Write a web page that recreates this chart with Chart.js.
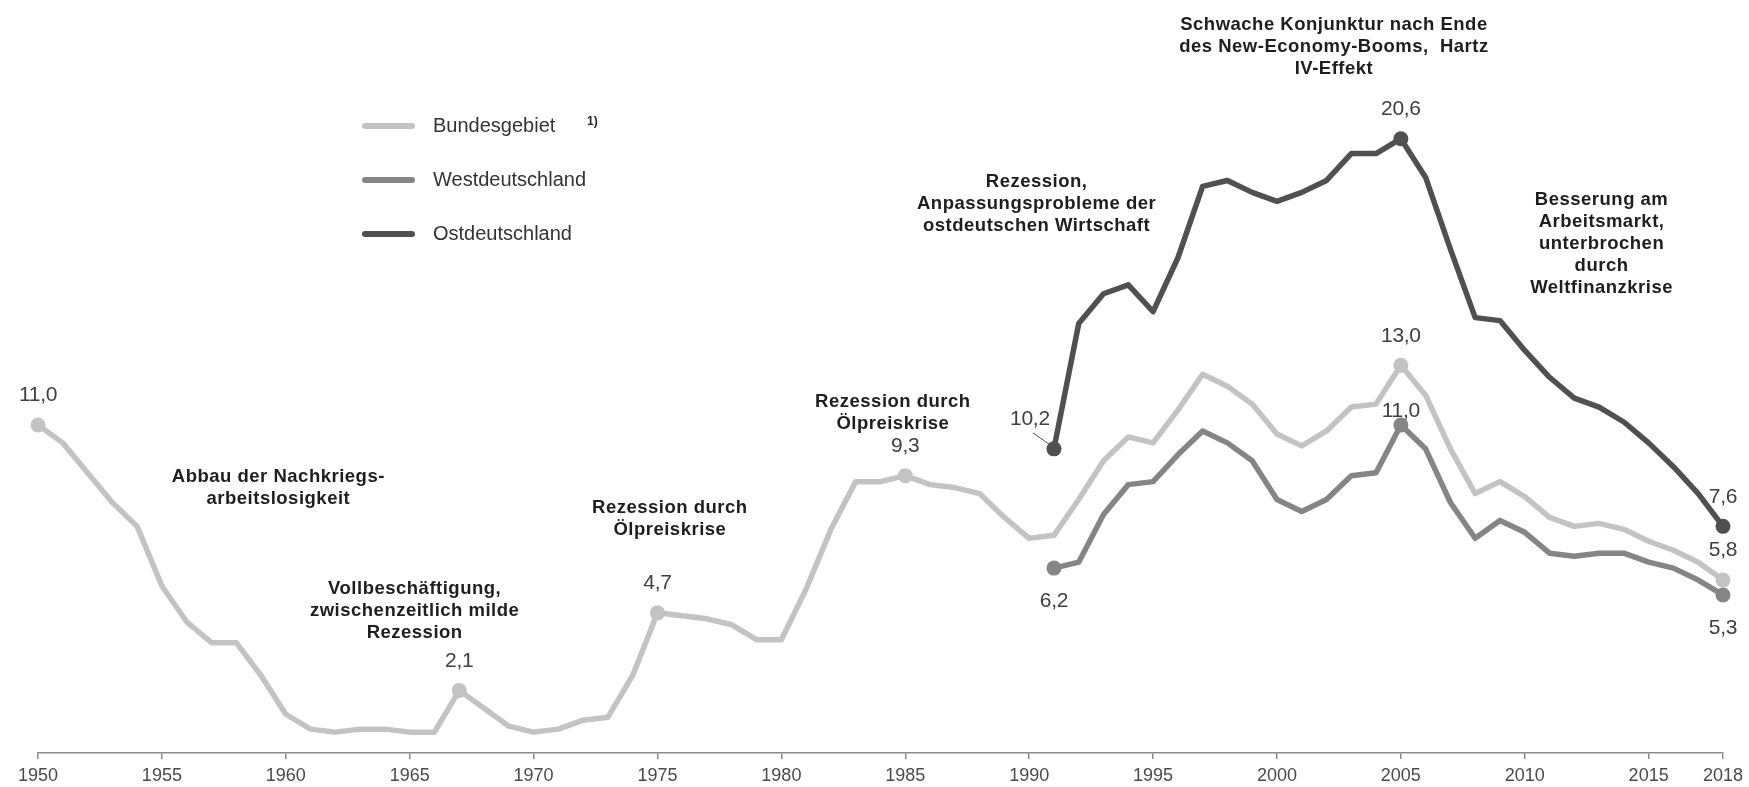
<!DOCTYPE html>
<html lang="de">
<head>
<meta charset="utf-8">
<title>Arbeitslosenquote 1950-2018</title>
<script src="https://cdn.jsdelivr.net/npm/chart.js@4.4.1/dist/chart.umd.min.js"></script>
<style>
  html, body { margin: 0; padding: 0; background: #fff; }
  #wrap { width: 1749px; height: 787px; }
</style>
</head>
<body>
<div id="wrap"><canvas id="chart" width="1749" height="787"></canvas></div>
<script>
// --- Daten ---
const jahre = [
  1950, 1951, 1952, 1953, 1954, 1955, 1956, 1957, 1958, 1959,
  1960, 1961, 1962, 1963, 1964, 1965, 1966, 1967, 1968, 1969,
  1970, 1971, 1972, 1973, 1974, 1975, 1976, 1977, 1978, 1979,
  1980, 1981, 1982, 1983, 1984, 1985, 1986, 1987, 1988, 1989,
  1990, 1991, 1992, 1993, 1994, 1995, 1996, 1997, 1998, 1999,
  2000, 2001, 2002, 2003, 2004, 2005, 2006, 2007, 2008, 2009,
  2010, 2011, 2012, 2013, 2014, 2015, 2016, 2017, 2018
];
const bundesgebiet = [
  11.0, 10.4, 9.4, 8.4, 7.6, 5.6, 4.4, 3.7, 3.7, 2.6,
  1.3, 0.8, 0.7, 0.8, 0.8, 0.7, 0.7, 2.1, 1.5, 0.9,
  0.7, 0.8, 1.1, 1.2, 2.6, 4.7, 4.6, 4.5, 4.3, 3.8,
  3.8, 5.5, 7.5, 9.1, 9.1, 9.3, 9.0, 8.9, 8.7, 7.9,
  7.2, 7.3, 8.5, 9.8, 10.6, 10.4, 11.5, 12.7, 12.3, 11.7,
  10.7, 10.3, 10.8, 11.6, 11.7, 13.0, 12.0, 10.2, 8.7, 9.1,
  8.6, 7.9, 7.6, 7.7, 7.5, 7.1, 6.8, 6.4, 5.8
];
const jahreOstWest = [
  1991, 1992, 1993, 1994, 1995, 1996, 1997, 1998, 1999, 2000,
  2001, 2002, 2003, 2004, 2005, 2006, 2007, 2008, 2009, 2010,
  2011, 2012, 2013, 2014, 2015, 2016, 2017, 2018
];
const westdeutschland = [
  6.2, 6.4, 8.0, 9.0, 9.1, 10.0, 10.8, 10.4, 9.8, 8.5,
  8.1, 8.5, 9.3, 9.4, 11.0, 10.2, 8.4, 7.2, 7.8, 7.4,
  6.7, 6.6, 6.7, 6.7, 6.4, 6.2, 5.8, 5.3
];
const ostdeutschland = [
  10.2, 14.4, 15.4, 15.7, 14.8, 16.6, 19.0, 19.2, 18.8, 18.5,
  18.8, 19.2, 20.1, 20.1, 20.6, 19.3, 16.9, 14.6, 14.5, 13.5,
  12.6, 11.9, 11.6, 11.1, 10.4, 9.6, 8.7, 7.6
];
const tickJahre = [1950, 1955, 1960, 1965, 1970, 1975, 1980, 1985, 1990, 1995, 2000, 2005, 2010, 2015, 2018];

// Jahre mit Punkt + Wertbeschriftung
const markenBund = [1950, 1967, 1975, 1985, 2005, 2018];
const markenWest = [1991, 2005, 2018];
const markenOst = [1991, 2005, 2018];

// Erläuterungen (Text + Ankerpunkt in Datenkoordinaten)
const erlaeuterungen = [
  { jahr: 1959.7, wert: 9.25, zeilen: ['Abbau der Nachkriegs-', 'arbeitslosigkeit'] },
  { jahr: 1965.2, wert: 5.5, zeilen: ['Vollbeschäftigung,', 'zwischenzeitlich milde', 'Rezession'] },
  { jahr: 1975.5, wert: 8.23, zeilen: ['Rezession durch', 'Ölpreiskrise'] },
  { jahr: 1984.5, wert: 11.77, zeilen: ['Rezession durch', 'Ölpreiskrise'] },
  { jahr: 1990.3, wert: 19.16, zeilen: ['Rezession,', 'Anpassungsprobleme der', 'ostdeutschen Wirtschaft'] },
  { jahr: 2002.3, wert: 24.43, zeilen: ['Schwache Konjunktur nach Ende', 'des New-Economy-Booms,  Hartz', 'IV-Effekt'] },
  { jahr: 2013.1, wert: 18.54, zeilen: ['Besserung am', 'Arbeitsmarkt,', 'unterbrochen', 'durch', 'Weltfinanzkrise'] }
];

const FONT = "'Liberation Sans', Arial, sans-serif";
const FARBEN = ['#c3c3c3', '#858585', '#505050'];

function punkte(xs, ys) {
  return xs.map((x, i) => ({ x: x, y: ys[i] }));
}
function fmtWert(v) {
  return v.toFixed(1).replace('.', ',');
}

const datasets = [
  { label: 'Bundesgebiet', data: punkte(jahre, bundesgebiet), marken: markenBund, farbe: FARBEN[0] },
  { label: 'Westdeutschland', data: punkte(jahreOstWest, westdeutschland), marken: markenWest, farbe: FARBEN[1] },
  { label: 'Ostdeutschland', data: punkte(jahreOstWest, ostdeutschland), marken: markenOst, farbe: FARBEN[2] }
].map(d => ({
  label: d.label,
  data: d.data,
  marken: d.marken,
  borderColor: d.farbe,
  backgroundColor: d.farbe,
  borderWidth: 5.5,
  tension: 0,
  clip: false,
  borderJoinStyle: 'round',
  borderCapStyle: 'round',
  pointRadius: ctx => (d.marken.includes(ctx.raw && ctx.raw.x) ? 7.5 : 0),
  pointHoverRadius: 0,
  pointBorderWidth: 0
}));

// Lage der Wertbeschriftung relativ zum Punkt
function lageLabel(dsIndex, jahr) {
  if (dsIndex === 1 && jahr !== 2005) return 'unten';
  if (dsIndex === 1 && jahr === 2005) return 'dicht';
  if (dsIndex === 2 && jahr === 1991) return 'links';
  return 'oben';
}

const beschriftungPlugin = {
  id: 'beschriftung',
  afterDatasetsDraw(chart) {
    const ctx = chart.ctx;
    ctx.save();
    ctx.font = '21px ' + FONT;
    ctx.letterSpacing = '-0.3px';
    ctx.fillStyle = '#404040';
    ctx.textAlign = 'center';
    ctx.textBaseline = 'middle';
    chart.data.datasets.forEach((ds, i) => {
      const meta = chart.getDatasetMeta(i);
      ds.data.forEach((p, j) => {
        if (!ds.marken.includes(p.x)) return;
        const el = meta.data[j];
        const text = fmtWert(p.y);
        const lage = lageLabel(i, p.x);
        if (lage === 'unten') {
          ctx.fillText(text, el.x, el.y + 33);
        } else if (lage === 'dicht') {
          ctx.fillText(text, el.x, el.y - 14);
        } else if (lage === 'links') {
          ctx.fillText(text, el.x - 24, el.y - 30);
          ctx.strokeStyle = '#505050';
          ctx.lineWidth = 1;
          ctx.beginPath();
          ctx.moveTo(el.x - 21, el.y - 16);
          ctx.lineTo(el.x - 4, el.y - 4);
          ctx.stroke();
        } else {
          ctx.fillText(text, el.x, el.y - 29.5);
        }
      });
    });
    ctx.restore();
  },
  afterDraw(chart) {
    const ctx = chart.ctx;
    const xs = chart.scales.x, ys = chart.scales.y;
    ctx.save();
    // Erläuterungstexte
    ctx.font = 'bold 18.5px ' + FONT;
    ctx.letterSpacing = '0.5px';
    ctx.fillStyle = '#1e1e1e';
    ctx.textAlign = 'center';
    ctx.textBaseline = 'middle';
    erlaeuterungen.forEach(a => {
      const x = xs.getPixelForValue(a.jahr);
      const y = ys.getPixelForValue(a.wert);
      a.zeilen.forEach((z, k) => ctx.fillText(z, x, y + k * 22));
    });

    // Legende
    const lx = 362, ly = 126, abstand = 54;
    ctx.font = '20px ' + FONT;
    ctx.letterSpacing = '0px';
    ctx.textAlign = 'left';
    chart.data.datasets.forEach((ds, i) => {
      const y = ly + i * abstand;
      ctx.strokeStyle = ds.borderColor;
      ctx.lineWidth = 6;
      ctx.lineCap = 'round';
      ctx.beginPath();
      ctx.moveTo(lx + 3, y);
      ctx.lineTo(lx + 50, y);
      ctx.stroke();
      ctx.fillStyle = '#333';
      ctx.fillText(ds.label, lx + 71, y);
    });
    ctx.font = 'bold 12px ' + FONT;
    ctx.fillStyle = '#222';
    ctx.fillText('1)', 587, ly - 4);
    ctx.restore();
  }
};

new Chart(document.getElementById('chart'), {
  type: 'line',
  data: { datasets },
  options: {
    responsive: false,
    animation: false,
    devicePixelRatio: 1,
    layout: { padding: { left: 38, right: 25, top: 3, bottom: 0 } },
    plugins: {
      legend: { display: false },
      tooltip: { enabled: false }
    },
    scales: {
      x: {
        type: 'linear',
        min: 1950,
        max: 2018,
        afterBuildTicks: s => { s.ticks = tickJahre.map(v => ({ value: v })); },
        afterFit: s => { s.height = 34; },
        grid: { display: true, drawOnChartArea: false, drawTicks: true, tickLength: 6, color: '#8a8a8a', lineWidth: 1.5 },
        border: { display: true, color: '#8a8a8a', width: 1.5 },
        ticks: {
          autoSkip: false,
          maxRotation: 0,
          padding: 6,
          color: '#4a4a4a',
          font: { family: FONT, size: 18 },
          callback: v => String(v)
        }
      },
      y: { display: false, min: 0, max: 25 }
    }
  },
  plugins: [beschriftungPlugin]
});
</script>
</body>
</html>
